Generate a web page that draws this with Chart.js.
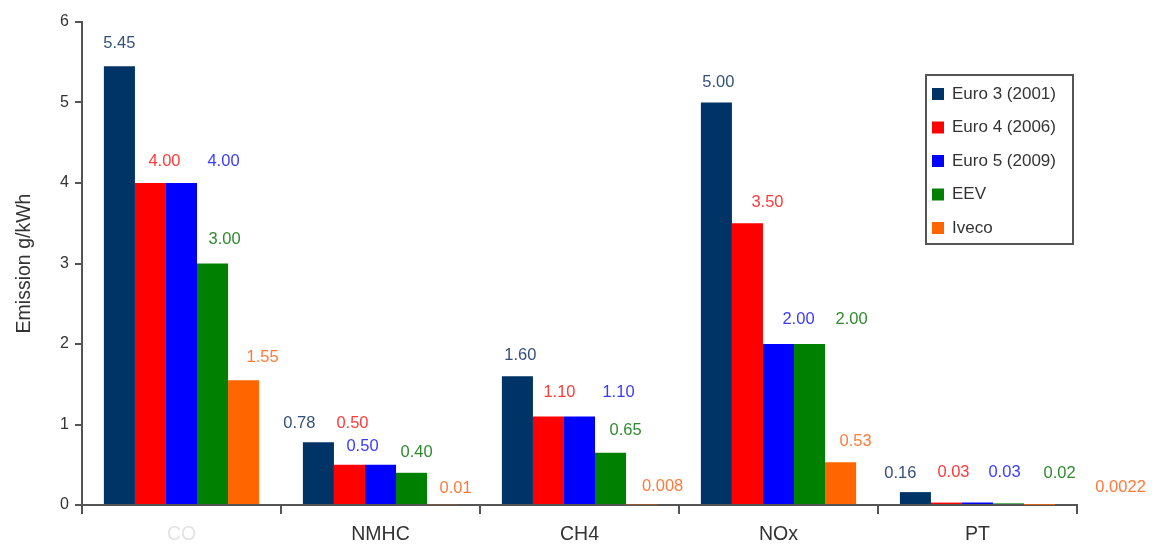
<!DOCTYPE html>
<html>
<head>
<meta charset="utf-8">
<title>Emission limits</title>
<script src="https://cdn.jsdelivr.net/npm/chart.js@4.4.1/dist/chart.umd.min.js"></script>
<style>
  html, body { margin: 0; padding: 0; background: #ffffff; }
  #wrap { width: 1152px; height: 544px; }
</style>
</head>
<body>
<div id="wrap"><canvas id="chart" width="1152" height="544"></canvas></div>
<script>
// Pollutant categories on the x axis
const categories = ['CO', 'NMHC', 'CH4', 'NOx', 'PT'];

// Emission values per standard, g/kWh
const euro3 = [5.45, 0.78, 1.60, 5.00, 0.16];
const euro4 = [4.00, 0.50, 1.10, 3.50, 0.03];
const euro5 = [4.00, 0.50, 1.10, 2.00, 0.03];
const eev   = [3.00, 0.40, 0.65, 2.00, 0.02];
const iveco = [1.55, 0.01, 0.008, 0.53, 0.0022];

const seriesNames = ['Euro 3 (2001)', 'Euro 4 (2006)', 'Euro 5 (2009)', 'EEV', 'Iveco'];

// Y axis ticks
const yTicks = [0, 1, 2, 3, 4, 5, 6];

const barColors   = ['#003366', '#ff0000', '#0000ff', '#008000', '#ff6600'];
const labelColors = ['#34507a', '#ff3a3a', '#3a3aff', '#2f8a2f', '#ff7a3a'];

// Hand-placed value label offsets (dx, dy from the bar top centre), per series then category
const labelNudge = [
  [[0, -23], [-19, -19], [3, -21], [2, -20], [-15, -19]],
  [[14, -22], [3, -41], [11, -24], [20, -21], [7, -30]],
  [[42, -22], [-18, -18], [39, -24], [20, -25], [27, -30]],
  [[12, -24], [5, -20], [15, -22], [42, -25], [51, -30]],
  [[19, -23], [13, -16], [21, -18], [15, -21], [81, -17]]
];

function formatValue(v) {
  return v >= 0.01 ? v.toFixed(2) : String(v);
}

const seriesValues = [euro3, euro4, euro5, eev, iveco];

const datasets = seriesValues.map((vals, i) => ({
  label: seriesNames[i],
  data: vals,
  backgroundColor: barColors[i],
  borderWidth: 0,
  barPercentage: 1.0,
  categoryPercentage: 0.78
}));

const FONT = '"Liberation Sans", Arial, sans-serif';

// Value labels above every bar
const valueLabels = {
  id: 'valueLabels',
  afterDatasetsDraw(chart) {
    const ctx = chart.ctx;
    ctx.save();
    ctx.font = '16.5px ' + FONT;
    ctx.textAlign = 'center';
    ctx.textBaseline = 'middle';
    chart.data.datasets.forEach((ds, di) => {
      const meta = chart.getDatasetMeta(di);
      meta.data.forEach((bar, i) => {
        const n = labelNudge[di][i];
        ctx.fillStyle = labelColors[di];
        ctx.fillText(formatValue(ds.data[i]), bar.x + n[0], bar.y + n[1]);
      });
    });
    ctx.restore();
  }
};

// Boxed legend inside the plot area, top right
const boxedLegend = {
  id: 'boxedLegend',
  afterDraw(chart) {
    const ctx = chart.ctx;
    const area = chart.chartArea;
    const w = 147, h = 169;
    const left = area.right - w - 4;
    const top = area.top + 53;
    ctx.save();
    ctx.fillStyle = '#ffffff';
    ctx.fillRect(left, top, w, h);
    ctx.strokeStyle = '#555555';
    ctx.lineWidth = 2;
    ctx.strokeRect(left, top, w, h);
    ctx.font = '17px ' + FONT;
    ctx.textAlign = 'left';
    ctx.textBaseline = 'middle';
    chart.data.datasets.forEach((ds, i) => {
      const cy = top + 19 + i * 33.5;
      ctx.fillStyle = ds.backgroundColor;
      ctx.fillRect(left + 6, cy - 6, 12, 12);
      ctx.fillStyle = '#333333';
      ctx.fillText(ds.label, left + 26, cy);
    });
    ctx.restore();
  }
};

new Chart(document.getElementById('chart'), {
  type: 'bar',
  data: { labels: categories, datasets: datasets },
  plugins: [valueLabels, boxedLegend],
  options: {
    responsive: false,
    animation: false,
    devicePixelRatio: 1,
    layout: { padding: { top: 22, right: 75, left: 0, bottom: 0 } },
    plugins: {
      legend: { display: false },
      tooltip: { enabled: false }
    },
    scales: {
      x: {
        offset: true,
        afterFit(scale) { scale.height = 39; },
        border: { color: '#555555', width: 2 },
        grid: {
          offset: true,
          drawOnChartArea: false,
          drawTicks: true,
          tickLength: 9,
          color: '#555555',
          lineWidth: 2
        },
        ticks: {
          padding: 9,
          font: { family: FONT, size: 19.5 },
          color: (c) => (c.index === 0 ? '#e4e4e4' : '#333333')
        }
      },
      y: {
        min: 0,
        max: 6,
        afterFit(scale) { scale.width = 82; },
        afterBuildTicks(scale) { scale.ticks = yTicks.map(v => ({ value: v })); },
        border: { color: '#555555', width: 2 },
        grid: {
          drawOnChartArea: false,
          drawTicks: true,
          tickLength: 7,
          color: '#555555',
          lineWidth: 2
        },
        ticks: {
          padding: 6,
          font: { family: FONT, size: 16 },
          color: '#333333'
        },
        title: {
          display: true,
          text: 'Emission g/kWh',
          color: '#333333',
          font: { family: FONT, size: 19.5 },
          padding: { top: 13, bottom: 0 }
        }
      }
    }
  }
});
</script>
</body>
</html>
